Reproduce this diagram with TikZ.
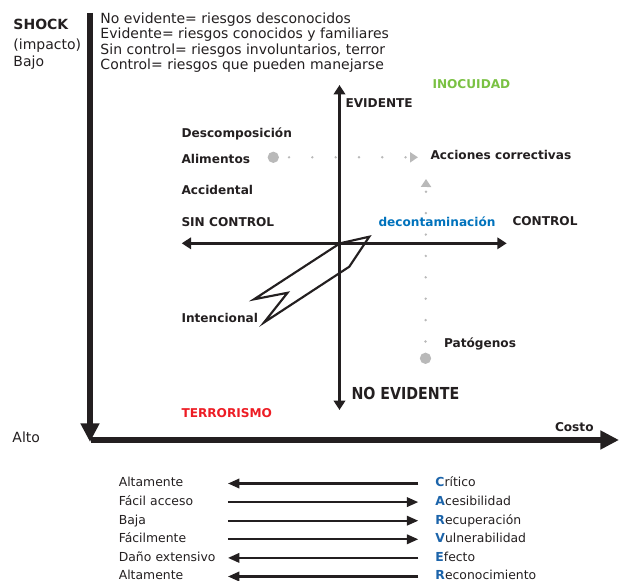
\documentclass[tikz,border=0pt]{standalone}
\usepackage{fontspec}
\setmainfont{DejaVu Sans}
\newfontfamily\narrowfont[FakeStretch=0.86]{DejaVu Sans}
\usetikzlibrary{arrows.meta}

\definecolor{ink}{RGB}{35,31,32}
\definecolor{dotgray}{RGB}{185,185,185}
\definecolor{inogreen}{RGB}{122,193,67}
\definecolor{terrred}{RGB}{237,28,36}
\definecolor{decblue}{RGB}{0,114,188}
\definecolor{carvblue}{RGB}{28,100,170}

\tikzset{every picture/.style={line width=0.75pt}}
\tikzset{
  lbl/.style={anchor=base west, inner sep=0pt, text=ink, font=\bfseries\fontsize{9.1}{11}\selectfont},
  note/.style={anchor=base west, inner sep=0pt, text=ink, font=\fontsize{10.5}{12}\selectfont},
  listleft/.style={anchor=west, inner sep=0pt, text=ink, font=\fontsize{9.3}{11}\selectfont, text height=7pt, text depth=2pt, text width=81.5pt},
  listright/.style={anchor=west, inner ysep=0pt, inner xsep=12.5pt, text=ink, font=\fontsize{9.3}{11}\selectfont, text height=7pt, text depth=2pt},
  bigaxis/.style={draw=ink, line width=4pt, -{Triangle[length=14pt,width=13.5pt]}},
  axis/.style={draw=ink, line width=1.9pt, {Triangle[length=7pt,width=8.5pt]}-{Triangle[length=7pt,width=8.5pt]}},
  listarrow/.style={draw=ink, line width=1.7pt, -{Triangle[length=8.5pt,width=7pt]}},
  dotnode/.style={circle, fill=dotgray, inner sep=0pt, minimum size=8.5pt},
  dotline/.style={draw=dotgray, line width=2pt, line cap=round, -{Triangle[length=6pt,width=7.5pt]}},
  bolt/.style={draw=ink, line width=1.6pt, line join=miter}
}

\begin{document}
\begin{tikzpicture}[x=0.75pt,y=0.75pt,yscale=-1,xscale=1]
\useasboundingbox (0,0) rectangle (619,581);

% main axes
\coordinate (shocktop) at (90,13);
\coordinate (shockbot) at (90,442);
\coordinate (costl) at (91,440);
\coordinate (costr) at (619,440);
\draw[bigaxis] (shocktop) -- (shockbot);
\draw[bigaxis] (costl) -- (costr);

% inner cross
\coordinate (evtip) at (339.5,85);
\coordinate (noevtip) at (339.5,410);
\coordinate (sctip) at (181.7,243.3);
\coordinate (cttip) at (506.7,243.3);
\draw[axis] (noevtip) -- (evtip);
\draw[axis] (sctip) -- (cttip);

% Shape: bolt
\draw[bolt] (340,243.3) -- (369.3,236.7) -- (349.3,266.7) -- (264,322.5) -- (287.5,292.8) -- (254,299.3) -- cycle;

% gray dots and dotted connectors
\node[dotnode] (alidot) at (273.3,157.3) {};
\node[dotnode] (patdot) at (425.5,358.3) {};
\coordinate (accpt) at (418,157.3);
\coordinate (dectip) at (426,179);
\draw[dotline, dash pattern=on 0pt off 17.475pt, dash phase=10.275pt] (alidot) -- (accpt);
\draw[dotline, dash pattern=on 0pt off 16.05pt, dash phase=8.1pt] (patdot) -- (dectip);

% Text Node
\node[lbl, font=\bfseries\fontsize{10.5}{12}\selectfont] (shock) at (13,30) {SHOCK};
\node[note] (impacto) at (13,50) {(impacto)};
\node[note] (bajo) at (13,67) {Bajo};
\node[note] (alto) at (12,443) {Alto};
\node[note] (nevid) at (100,23.5) {No evidente= riesgos desconocidos};
\node[note] (evidl) at (100,38.8) {Evidente= riesgos conocidos y familiares};
\node[note] (sinctl) at (100,54.1) {Sin control= riesgos involuntarios, terror};
\node[note] (ctll) at (100,69.4) {Control= riesgos que pueden manejarse};

\node[lbl] (evid) at (345,107.7) {EVIDENTE};
\node[lbl, text=inogreen] (inoc) at (432,88.5) {INOCUIDAD};
\node[lbl] (descomp) at (181,137.5) {Descomposición};
\node[lbl] (alim) at (181,163.5) {Alimentos};
\node[lbl] (accid) at (181,194.5) {Accidental};
\node[lbl] (sinctrl) at (181,226.5) {SIN CONTROL};
\node[lbl] (acciones) at (430,159.5) {Acciones correctivas};
\node[lbl, text=decblue] (decont) at (378,226.5) {decontaminación};
\node[lbl] (ctrl) at (512,226) {CONTROL};
\node[lbl] (intenc) at (181,323) {Intencional};
\node[lbl] (patog) at (443.5,347.5) {Patógenos};
\node[lbl, font=\narrowfont\bfseries\fontsize{12.4}{14}\selectfont] (noevid) at (351,399.5) {NO EVIDENTE};
\node[lbl, text=terrred] (terror) at (181,417.7) {TERRORISMO};
\node[lbl] (costo) at (554.5,431.5) {Costo};

% CARVER list
\node[listleft] (l1) at (118.3,483.5) {Altamente};
\node[listleft] (l2) at (118.3,502.1) {Fácil acceso};
\node[listleft] (l3) at (118.3,520.7) {Baja};
\node[listleft] (l4) at (118.3,539.3) {Fácilmente};
\node[listleft] (l5) at (118.3,557.9) {Daño extensivo};
\node[listleft] (l6) at (118.3,576.5) {Altamente};
\node[listright] (r1) at (418.3,483.5) {\textcolor{carvblue}{\bfseries C}rítico};
\node[listright] (r2) at (418.3,502.1) {\textcolor{carvblue}{\bfseries A}cesibilidad};
\node[listright] (r3) at (418.3,520.7) {\textcolor{carvblue}{\bfseries R}ecuperación};
\node[listright] (r4) at (418.3,539.3) {\textcolor{carvblue}{\bfseries V}ulnerabilidad};
\node[listright] (r5) at (418.3,557.9) {\textcolor{carvblue}{\bfseries E}fecto};
\node[listright] (r6) at (418.3,576.5) {\textcolor{carvblue}{\bfseries R}econocimiento};
\draw[listarrow] (r1.west) -- (l1.east);
\draw[listarrow] (l2.east) -- (r2.west);
\draw[listarrow] (l3.east) -- (r3.west);
\draw[listarrow] (l4.east) -- (r4.west);
\draw[listarrow] (r5.west) -- (l5.east);
\draw[listarrow] (r6.west) -- (l6.east);

\end{tikzpicture}
\end{document}
